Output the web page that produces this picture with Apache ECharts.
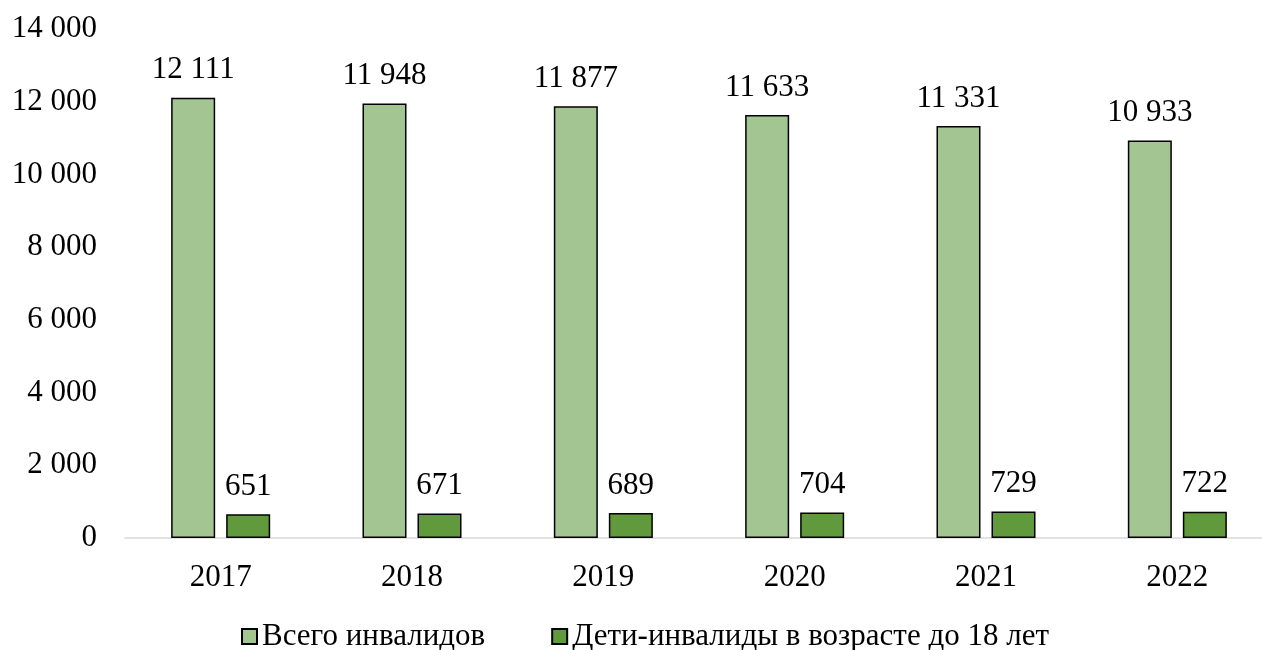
<!DOCTYPE html>
<html>
<head>
<meta charset="utf-8">
<script src="https://cdn.jsdelivr.net/npm/echarts@6/dist/echarts.min.js"></script>
<style>
html,body{margin:0;padding:0;background:#fff;}
#c{width:1262px;height:650px;}
</style>
</head>
<body>
<div id="c"></div>
<script>
const categories = ['2017', '2018', '2019', '2020', '2021', '2022'];
const seriesNames = ['Всего инвалидов', 'Дети-инвалиды в возрасте до 18 лет'];
const totalDisabled = [12111, 11948, 11877, 11633, 11331, 10933];
const childrenDisabled = [651, 671, 689, 704, 729, 722];
const yTicks = [0, 2000, 4000, 6000, 8000, 10000, 12000, 14000];

function fmt(v) {
  return String(v).replace(/\B(?=(\d{3})+(?!\d))/g, ' ');
}
const FONT = '"Liberation Serif", "DejaVu Serif", serif';
const FS = 31;
const chart = echarts.init(document.getElementById('c'));
chart.setOption({
  animation: false,
  textStyle: { fontFamily: FONT },
  grid: { left: 125, top: 29, width: 1148, height: 509, containLabel: false, outerBoundsMode: 'none' },
  legend: {
    data: seriesNames,
    top: 616,
    left: 236,
    itemWidth: 15,
    itemHeight: 15,
    itemGap: 66,
    icon: 'rect',
    textStyle: { fontFamily: FONT, fontSize: FS, color: '#000' }
  },
  xAxis: {
    type: 'category',
    data: categories,
    axisLine: { lineStyle: { color: '#d9d9d9', width: 1.5 } },
    axisTick: { show: false },
    axisLabel: { fontFamily: FONT, fontSize: FS, color: '#000', margin: 24 }
  },
  yAxis: {
    type: 'value',
    min: yTicks[0],
    max: yTicks[yTicks.length - 1],
    interval: 2000,
    splitLine: { show: false },
    axisLine: { show: false },
    axisTick: { show: false },
    axisLabel: { fontFamily: FONT, fontSize: FS, color: '#000', margin: 28, formatter: fmt }
  },
  series: [
    {
      name: seriesNames[0],
      type: 'bar',
      data: totalDisabled,
      barWidth: '23%',
      barGap: '25%',
      itemStyle: { color: '#a2c591', borderColor: '#000', borderWidth: 1.5 },
      label: { show: true, position: 'top', distance: 12, fontFamily: FONT, fontSize: FS, color: '#000', formatter: p => fmt(p.value) }
    },
    {
      name: seriesNames[1],
      type: 'bar',
      data: childrenDisabled,
      barWidth: '23%',
      itemStyle: { color: '#609a3c', borderColor: '#000', borderWidth: 1.5 },
      label: { show: true, position: 'top', distance: 12, fontFamily: FONT, fontSize: FS, color: '#000', formatter: p => fmt(p.value) }
    }
  ]
});
</script>
</body>
</html>
